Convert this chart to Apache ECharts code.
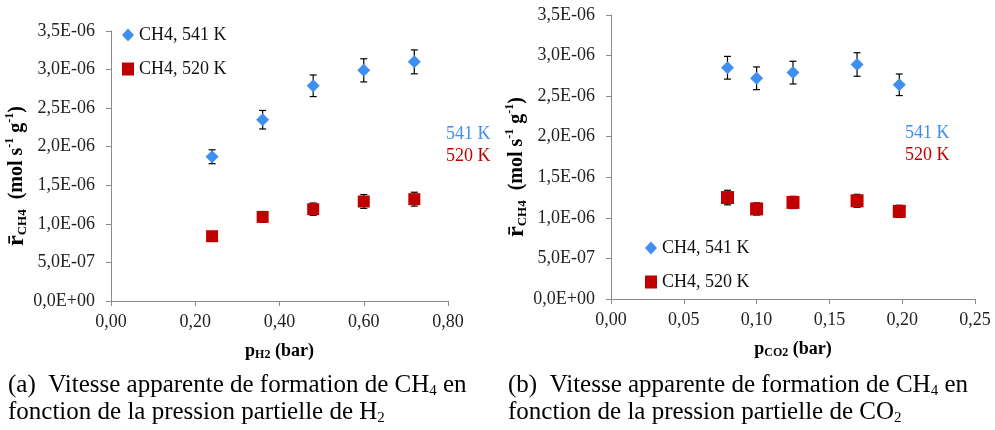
<!DOCTYPE html>
<html>
<head>
<meta charset="utf-8">
<script src="https://cdn.jsdelivr.net/npm/echarts@6/dist/echarts.min.js"></script>
<style>
  html, body { margin: 0; padding: 0; background: #fff; }
  #chart { width: 995px; height: 430px; }
</style>
</head>
<body>
<div id="chart"></div>
<script>
// (a) pression partielle de H2
const h2Pressure = [0.24, 0.36, 0.48, 0.60, 0.72]
const rateH2_541 = [1.87e-6, 2.35e-6, 2.79e-6, 2.99e-6, 3.10e-6]
const errH2_541 = [0.09e-6, 0.12e-6, 0.14e-6, 0.15e-6, 0.155e-6]
const rateH2_520 = [0.84e-6, 1.09e-6, 1.19e-6, 1.29e-6, 1.32e-6]
const errH2_520 = [0.04e-6, 0.07e-6, 0.08e-6, 0.09e-6, 0.09e-6]

// (b) pression partielle de CO2
const co2Pressure = [0.08, 0.10, 0.125, 0.169, 0.198]
const rateCO2_541 = [2.85e-6, 2.72e-6, 2.79e-6, 2.89e-6, 2.64e-6]
const errCO2_541 = [0.14e-6, 0.14e-6, 0.14e-6, 0.145e-6, 0.133e-6]
const rateCO2_520 = [1.25e-6, 1.11e-6, 1.19e-6, 1.21e-6, 1.08e-6]
const errCO2_520 = [0.09e-6, 0.075e-6, 0.075e-6, 0.08e-6, 0.075e-6]

const seriesNames = ['CH4, 541 K', 'CH4, 520 K']

const FONT = "'Liberation Serif', 'Times New Roman', serif"
const BLUE = '#3f8ef0'
const RED = '#c00000'

const pts = (xs, ys) => xs.map((x, i) => [x, ys[i]])
const bars = (xs, ys, es) => xs.map((x, i) => [x, ys[i], es[i]])

// 3,5E-06 style labels
const sciLabel = v => {
    const [m, e] = Number(v).toExponential(1).split('e')
    const n = parseInt(e, 10)
    const exp = (n < 0 ? '-' : '+') + String(Math.abs(n)).padStart(2, '0')
    return m.replace('.', ',') + 'E' + exp
}
const decLabel = v => v.toFixed(2).replace('.', ',')

const errorBar = (params, api) => {
    const x = api.value(0), y = api.value(1), e = api.value(2)
    const top = api.coord([x, y + e])
    const bot = api.coord([x, y - e])
    const cap = 3.5
    const style = { stroke: '#000', lineWidth: 1.2 }
    return {
        type: 'group',
        children: [
            { type: 'line', shape: { x1: top[0], y1: top[1], x2: bot[0], y2: bot[1] }, style },
            { type: 'line', shape: { x1: top[0] - cap, y1: top[1], x2: top[0] + cap, y2: top[1] }, style },
            { type: 'line', shape: { x1: bot[0] - cap, y1: bot[1], x2: bot[0] + cap, y2: bot[1] }, style }
        ]
    }
}

// trailing blank pushes the rotated title a bit down, as in the original
const yName = '{r|r̄}{sub|CH4}{t|  (mol s}{sup|-1}{t| g}{sup|-1}{t|)}{t|    }'
const yRich = {
    r: { fontFamily: FONT, fontSize: 24, fontWeight: 'bold', color: '#000', lineHeight: 26 },
    sub: { fontFamily: FONT, fontSize: 13, fontWeight: 'bold', color: '#000', verticalAlign: 'bottom', lineHeight: 13 },
    t: { fontFamily: FONT, fontSize: 20, fontWeight: 'bold', color: '#000', lineHeight: 22 },
    sup: { fontFamily: FONT, fontSize: 12, fontWeight: 'bold', color: '#000', verticalAlign: 'top', lineHeight: 12 }
}
const xRich = {
    p: { fontFamily: FONT, fontSize: 18, fontWeight: 'bold', color: '#000', lineHeight: 20 },
    sub: { fontFamily: FONT, fontSize: 12, fontWeight: 'bold', color: '#000', verticalAlign: 'bottom', lineHeight: 12 }
}

const makeY = (gridIndex) => ({
    type: 'value',
    gridIndex,
    min: 0,
    max: 3.5e-6,
    interval: 5e-7,
    splitLine: { show: false },
    axisLine: { show: true, lineStyle: { color: '#8a8a8a' } },
    axisTick: { show: true, inside: false, length: 5, lineStyle: { color: '#8a8a8a' } },
    axisLabel: { formatter: sciLabel, fontFamily: FONT, fontSize: 18, color: '#222', margin: 16 },
    name: yName,
    nameLocation: 'middle',
    nameRotate: 90,
    nameGap: 78,
    nameTextStyle: { rich: yRich }
})

const makeX = (gridIndex, max, interval, name) => ({
    type: 'value',
    gridIndex,
    min: 0,
    max,
    interval,
    splitLine: { show: false },
    axisLine: { show: true, onZero: false, lineStyle: { color: '#8a8a8a' } },
    axisTick: { show: true, length: 5, lineStyle: { color: '#8a8a8a' } },
    axisLabel: { formatter: decLabel, fontFamily: FONT, fontSize: 18, color: '#222', margin: 12 },
    name,
    nameLocation: 'middle',
    nameGap: 40,
    nameTextStyle: { rich: xRich }
})

const scatter = (name, symbol, size, color, data, idx) => ({
    name,
    type: 'scatter',
    symbol,
    symbolSize: size,
    itemStyle: { color, opacity: 1 },
    xAxisIndex: idx,
    yAxisIndex: idx,
    data,
    z: 3
})

const errSeries = (data, idx) => ({
    type: 'custom',
    renderItem: errorBar,
    xAxisIndex: idx,
    yAxisIndex: idx,
    data,
    z: 2,
    silent: true
})

const legendBox = (left, top) => ({
    data: seriesNames,
    orient: 'vertical',
    left,
    top,
    padding: 0,
    itemWidth: 12,
    itemHeight: 13,
    itemGap: 16,
    textStyle: { fontFamily: FONT, fontSize: 18, color: '#111' }
})

const capRich = {
    t: { fontFamily: FONT, fontSize: 25, color: '#222', lineHeight: 27 },
    s: { fontFamily: FONT, fontSize: 15, color: '#222', verticalAlign: 'bottom', lineHeight: 16 }
}

const chart = echarts.init(document.getElementById('chart'))
chart.setOption({
    backgroundColor: '#fff',
    animation: false,
    grid: [
        { left: 111, top: 31, width: 337, height: 270 },
        { left: 611, top: 15, width: 364, height: 284 }
    ],
    xAxis: [
        makeX(0, 0.8, 0.2, '{p|p}{sub|H2}{p| (bar)}'),
        makeX(1, 0.25, 0.05, '{p|p}{sub|CO2}{p| (bar)}')
    ],
    yAxis: [makeY(0), makeY(1)],
    legend: [legendBox(122, 26), legendBox(645, 239)],
    series: [
        errSeries(bars(h2Pressure, rateH2_541, errH2_541), 0),
        errSeries(bars(h2Pressure, rateH2_520, errH2_520), 0),
        scatter(seriesNames[0], 'diamond', 13, BLUE, pts(h2Pressure, rateH2_541), 0),
        scatter(seriesNames[1], 'rect', 12, RED, pts(h2Pressure, rateH2_520), 0),
        errSeries(bars(co2Pressure, rateCO2_541, errCO2_541), 1),
        errSeries(bars(co2Pressure, rateCO2_520, errCO2_520), 1),
        scatter(seriesNames[0], 'diamond', 13, BLUE, pts(co2Pressure, rateCO2_541), 1),
        scatter(seriesNames[1], 'rect', 13, RED, pts(co2Pressure, rateCO2_520), 1)
    ],
    graphic: [
        { type: 'text', left: 446, top: 125, style: { text: '541 K', fontFamily: FONT, fontSize: 18, fill: BLUE } },
        { type: 'text', left: 446, top: 147, style: { text: '520 K', fontFamily: FONT, fontSize: 18, fill: RED } },
        { type: 'text', left: 905, top: 124, style: { text: '541 K', fontFamily: FONT, fontSize: 18, fill: BLUE } },
        { type: 'text', left: 905, top: 146, style: { text: '520 K', fontFamily: FONT, fontSize: 18, fill: RED } },
        {
            type: 'text', left: 8, top: 373,
            style: {
                text: '{t|(a)  Vitesse apparente de formation de CH}{s|4}{t| en}\n{t|fonction de la pression partielle de H}{s|2}',
                rich: capRich
            }
        },
        {
            type: 'text', left: 508, top: 373,
            style: {
                text: '{t|(b)  Vitesse apparente de formation de CH}{s|4}{t| en}\n{t|fonction de la pression partielle de CO}{s|2}',
                rich: capRich
            }
        }
    ]
})
</script>
</body>
</html>
